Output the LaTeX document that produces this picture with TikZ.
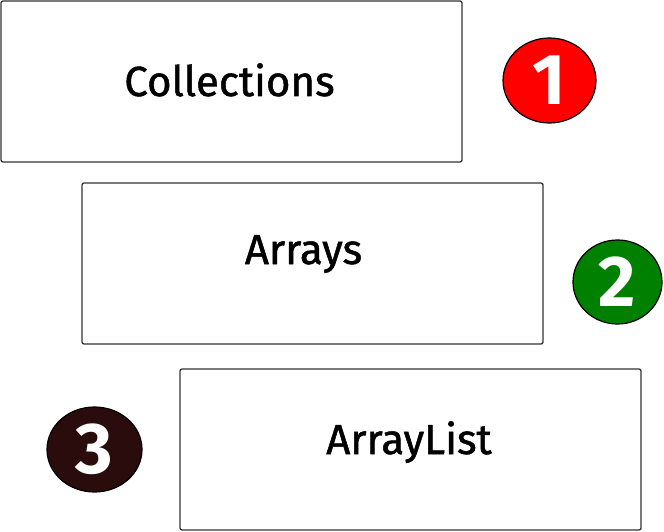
\documentclass[tikz,border=0pt]{standalone}
\usepackage{fontspec}
\setmainfont{Fira Sans}
\newfontfamily\labelfont[FakeBold=1.2]{Fira Sans}
\usetikzlibrary{shapes.geometric}
\definecolor{boxline}{HTML}{333333}
\definecolor{darkbrown}{HTML}{2B0C0C}
\definecolor{badgegreen}{HTML}{008000}
\tikzset{
  box/.style={draw=boxline, line width=1.3pt, rounded corners=2pt, fill=white},
  boxtext/.style={anchor=base, inner sep=0pt, font=\labelfont\fontsize{42}{46}\selectfont},
  badge/.style={ellipse, draw=black, line width=1.2pt, inner sep=0pt, text=white,
    font=\fontsize{72}{72}\selectfont\bfseries},
}
\begin{document}
\begin{tikzpicture}[x=1pt,y=-1pt]
\useasboundingbox (0,0) rectangle (664,532);
\draw[box] (1,1) rectangle (462,162);
\node[boxtext] (t1) at (229.5,96) {Collections};
\draw[box] (82,183) rectangle (543,344);
\node[boxtext] (t2) at (303.5,264) {Arrays};
\draw[box] (180,369) rectangle (641,530);
\node[boxtext] (t3) at (409,454) {ArrayList};
\node[badge, fill=red, minimum width=93pt, minimum height=85pt] (b1) at (549.5,80.5) {1};
\node[badge, fill=badgegreen, minimum width=89pt, minimum height=84pt] (b2) at (617.5,282) {2};
\node[badge, fill=darkbrown, minimum width=95pt, minimum height=85pt] (b3) at (94.5,449.5) {3};
\end{tikzpicture}
\end{document}
